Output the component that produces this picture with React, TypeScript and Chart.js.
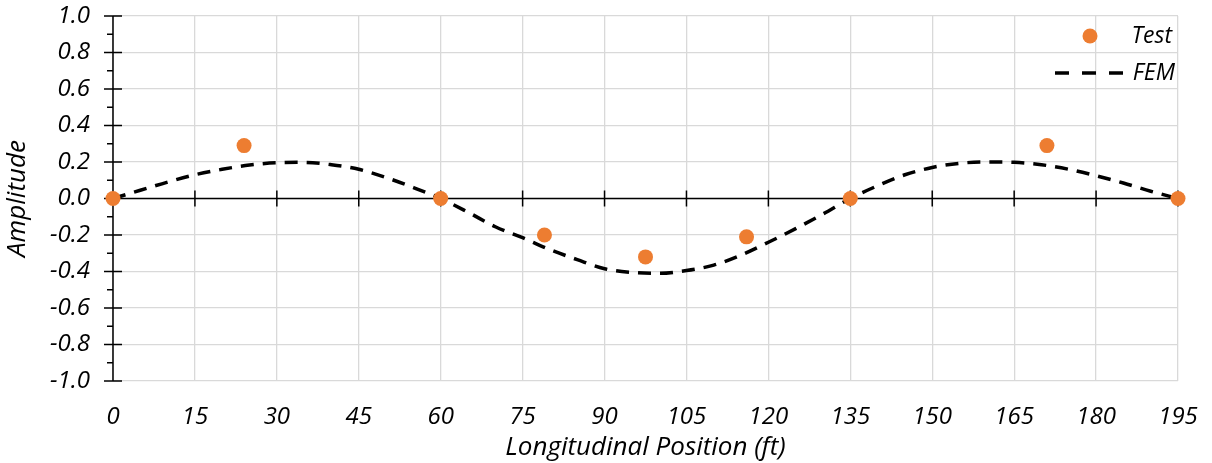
import React, { useEffect, useRef } from "react";
import { Chart, registerables } from "chart.js";

Chart.register(...registerables);

// ---- data ----
const testX = [0, 24, 60, 79, 97.5, 116, 135, 171, 195];
const testY = [0, 0.29, 0, -0.2, -0.32, -0.21, 0, 0.29, 0];

const femX = [0, 5, 10, 15, 20, 25, 30, 35, 40, 45, 50, 55, 60, 65, 70, 75, 80, 85, 90, 95, 100, 105, 110, 115, 120, 125, 130, 135, 140, 145, 150, 155, 160, 165, 170, 175, 180, 185, 190, 195];
const femY = [0, 0.045, 0.09, 0.13, 0.16, 0.183, 0.196, 0.198, 0.185, 0.16, 0.115, 0.06, 0, -0.075, -0.155, -0.215, -0.28, -0.335, -0.385, -0.405, -0.41, -0.395, -0.365, -0.31, -0.24, -0.165, -0.085, 0, 0.07, 0.13, 0.17, 0.193, 0.2, 0.198, 0.185, 0.16, 0.125, 0.085, 0.04, 0];

const xTicks = [0, 15, 30, 45, 60, 75, 90, 105, 120, 135, 150, 165, 180, 195];
const yTicks = [-1, -0.8, -0.6, -0.4, -0.2, 0, 0.2, 0.4, 0.6, 0.8, 1];
const yMinorTicks = [-0.9, -0.7, -0.5, -0.3, -0.1, 0.1, 0.3, 0.5, 0.7, 0.9];

const seriesNames = ["Test", "FEM"];
const xTitle = "Longitudinal Position (ft)";
const yTitle = "Amplitude";

const FONT = "'Open Sans', 'Noto Sans', sans-serif";
const ORANGE = "#ED7D31";
const GRID = "#D9D9D9";

const axesPlugin = {
  id: "zeroAxes",
  beforeDatasetsDraw(chart: any) {
    const { ctx, scales } = chart;
    const xs = scales.x;
    const ys = scales.y;
    const x0 = xs.getPixelForValue(0);
    const y0 = ys.getPixelForValue(0);
    ctx.save();
    ctx.strokeStyle = "#000";
    ctx.lineWidth = 1.5;
    ctx.beginPath();
    ctx.moveTo(x0, ys.getPixelForValue(1));
    ctx.lineTo(x0, ys.getPixelForValue(-1));
    ctx.moveTo(xs.getPixelForValue(0), y0);
    ctx.lineTo(xs.getPixelForValue(195), y0);
    yTicks.forEach((v) => {
      const p = ys.getPixelForValue(v);
      ctx.moveTo(x0 - 9, p);
      ctx.lineTo(x0 + 9, p);
    });
    yMinorTicks.forEach((v) => {
      const p = ys.getPixelForValue(v);
      ctx.moveTo(x0 - 6, p);
      ctx.lineTo(x0, p);
    });
    xTicks.forEach((v) => {
      const p = xs.getPixelForValue(v);
      ctx.moveTo(p, y0 - 8);
      ctx.lineTo(p, y0 + 8);
    });
    ctx.stroke();
    ctx.restore();
  },
};

const legendPlugin = {
  id: "customLegend",
  afterDatasetsDraw(chart: any) {
    const { ctx, chartArea } = chart;
    const right = chartArea.right;
    const top = chartArea.top;
    ctx.save();
    ctx.font = `italic 23px ${FONT}`;
    ctx.fillStyle = "#000";
    ctx.textAlign = "right";
    ctx.textBaseline = "middle";
    const ty = top + 20;
    ctx.fillText(seriesNames[0], right - 6, ty);
    ctx.beginPath();
    ctx.fillStyle = ORANGE;
    ctx.arc(right - 88, ty, 7.5, 0, Math.PI * 2);
    ctx.fill();
    const fy = top + 57;
    ctx.fillStyle = "#000";
    ctx.fillText(seriesNames[1], right - 3, fy);
    ctx.beginPath();
    ctx.strokeStyle = "#000";
    ctx.lineWidth = 3.5;
    ctx.setLineDash([14, 13]);
    ctx.moveTo(right - 123, fy);
    ctx.lineTo(right - 53, fy);
    ctx.stroke();
    ctx.restore();
  },
};

export default function App() {
  const ref = useRef<HTMLCanvasElement | null>(null);

  useEffect(() => {
    document.body.style.margin = "0";
    const canvas = ref.current;
    if (!canvas) return;
    const chart = new Chart(canvas, {
      type: "scatter",
      data: {
        datasets: [
          {
            label: seriesNames[0],
            data: testX.map((x, i) => ({ x, y: testY[i] })),
            backgroundColor: ORANGE,
            borderColor: ORANGE,
            pointRadius: 7.5,
            pointBorderWidth: 0,
            showLine: false,
            clip: false,
            order: 0,
          },
          {
            label: seriesNames[1],
            data: femX.map((x, i) => ({ x, y: femY[i] })),
            borderColor: "#000",
            backgroundColor: "#000",
            borderWidth: 3.5,
            borderDash: [13, 9],
            pointRadius: 0,
            showLine: true,
            tension: 0.4,
            cubicInterpolationMode: "monotone",
            clip: false,
            order: 1,
          },
        ],
      },
      options: {
        animation: false,
        responsive: false,
        maintainAspectRatio: false,
        layout: { autoPadding: false, padding: { top: 16, right: 34, left: 0, bottom: 0 } },
        plugins: {
          legend: { display: false },
          tooltip: { enabled: false },
        },
        scales: {
          x: {
            type: "linear",
            min: 0,
            max: 195,
            afterBuildTicks: (s: any) => {
              s.ticks = xTicks.map((v) => ({ value: v }));
            },
            afterFit: (s: any) => {
              s.height = 82;
              s.paddingLeft = 0;
              s.paddingRight = 0;
            },
            grid: { color: GRID, lineWidth: 1.3, drawTicks: false },
            border: { display: false },
            ticks: {
              font: { family: FONT, size: 24, style: "italic" },
              color: "#000",
              padding: 22,
              maxRotation: 0,
              callback: (v: any) => String(v),
            },
            title: {
              display: true,
              text: xTitle,
              font: { family: FONT, size: 26, style: "italic" },
              color: "#000",
              padding: { top: 0, bottom: 0 },
            },
          },
          y: {
            type: "linear",
            min: -1,
            max: 1,
            afterBuildTicks: (s: any) => {
              s.ticks = yTicks.map((v) => ({ value: v }));
            },
            afterFit: (s: any) => {
              s.width = 113;
              s.paddingTop = 0;
              s.paddingBottom = 0;
            },
            grid: { color: GRID, lineWidth: 1.3, drawTicks: false },
            border: { display: false },
            ticks: {
              font: { family: FONT, size: 24, style: "italic" },
              color: "#000",
              padding: 23,
              callback: (v: any) => {
                const n = Number(v);
                return Math.abs(n) < 1e-9 ? "0.0" : n.toFixed(1);
              },
            },
            title: {
              display: true,
              text: yTitle,
              font: { family: FONT, size: 26, style: "italic" },
              color: "#000",
              padding: { top: 2, bottom: 0 },
            },
          },
        },
      },
      plugins: [axesPlugin, legendPlugin],
    } as any);
    return () => chart.destroy();
  }, []);

  return <canvas ref={ref} width={1212} height={463} style={{ display: "block" }} />;
}
